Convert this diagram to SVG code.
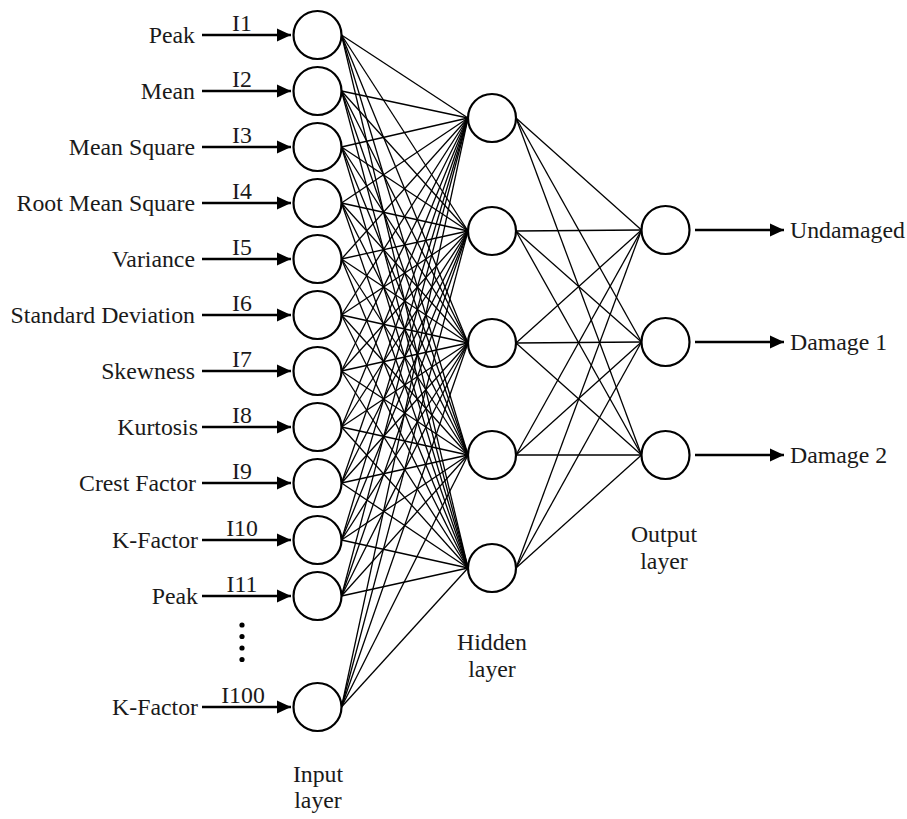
<svg xmlns="http://www.w3.org/2000/svg" width="907" height="819" viewBox="0 0 907 819">
<defs>
<marker id="ah" markerUnits="userSpaceOnUse" markerWidth="15" markerHeight="14" refX="14" refY="7" orient="auto"><path d="M0,0.5 L14,7 L0,13.5 z" fill="#000"/></marker>
</defs>
<style>
text{font-family:"Liberation Serif","Times New Roman",serif;font-size:23.8px;fill:#1a1a1a}
.lbl{text-anchor:end}
.mid{text-anchor:middle}
.node{fill:#fff;stroke:#000;stroke-width:2.2}
.arr{stroke:#000;stroke-width:2.6;fill:none;marker-end:url(#ah)}
.w{stroke:#000;stroke-width:1.3}
</style>
<rect width="907" height="819" fill="#fff"/>
<g id="connectors">
<g id="input-hidden">
<line class="w" x1="341.5" y1="35" x2="468" y2="118"/><line class="w" x1="341.5" y1="35" x2="468" y2="231"/><line class="w" x1="341.5" y1="35" x2="468" y2="343"/><line class="w" x1="341.5" y1="35" x2="468" y2="455"/><line class="w" x1="341.5" y1="35" x2="468" y2="568"/>
<line class="w" x1="341.5" y1="91" x2="468" y2="118"/><line class="w" x1="341.5" y1="91" x2="468" y2="231"/><line class="w" x1="341.5" y1="91" x2="468" y2="343"/><line class="w" x1="341.5" y1="91" x2="468" y2="455"/><line class="w" x1="341.5" y1="91" x2="468" y2="568"/>
<line class="w" x1="341.5" y1="147" x2="468" y2="118"/><line class="w" x1="341.5" y1="147" x2="468" y2="231"/><line class="w" x1="341.5" y1="147" x2="468" y2="343"/><line class="w" x1="341.5" y1="147" x2="468" y2="455"/><line class="w" x1="341.5" y1="147" x2="468" y2="568"/>
<line class="w" x1="341.5" y1="203" x2="468" y2="118"/><line class="w" x1="341.5" y1="203" x2="468" y2="231"/><line class="w" x1="341.5" y1="203" x2="468" y2="343"/><line class="w" x1="341.5" y1="203" x2="468" y2="455"/><line class="w" x1="341.5" y1="203" x2="468" y2="568"/>
<line class="w" x1="341.5" y1="259" x2="468" y2="118"/><line class="w" x1="341.5" y1="259" x2="468" y2="231"/><line class="w" x1="341.5" y1="259" x2="468" y2="343"/><line class="w" x1="341.5" y1="259" x2="468" y2="455"/><line class="w" x1="341.5" y1="259" x2="468" y2="568"/>
<line class="w" x1="341.5" y1="315" x2="468" y2="118"/><line class="w" x1="341.5" y1="315" x2="468" y2="231"/><line class="w" x1="341.5" y1="315" x2="468" y2="343"/><line class="w" x1="341.5" y1="315" x2="468" y2="455"/><line class="w" x1="341.5" y1="315" x2="468" y2="568"/>
<line class="w" x1="341.5" y1="371" x2="468" y2="118"/><line class="w" x1="341.5" y1="371" x2="468" y2="231"/><line class="w" x1="341.5" y1="371" x2="468" y2="343"/><line class="w" x1="341.5" y1="371" x2="468" y2="455"/><line class="w" x1="341.5" y1="371" x2="468" y2="568"/>
<line class="w" x1="341.5" y1="427" x2="468" y2="118"/><line class="w" x1="341.5" y1="427" x2="468" y2="231"/><line class="w" x1="341.5" y1="427" x2="468" y2="343"/><line class="w" x1="341.5" y1="427" x2="468" y2="455"/><line class="w" x1="341.5" y1="427" x2="468" y2="568"/>
<line class="w" x1="341.5" y1="483" x2="468" y2="118"/><line class="w" x1="341.5" y1="483" x2="468" y2="231"/><line class="w" x1="341.5" y1="483" x2="468" y2="343"/><line class="w" x1="341.5" y1="483" x2="468" y2="455"/><line class="w" x1="341.5" y1="483" x2="468" y2="568"/>
<line class="w" x1="341.5" y1="540" x2="468" y2="118"/><line class="w" x1="341.5" y1="540" x2="468" y2="231"/><line class="w" x1="341.5" y1="540" x2="468" y2="343"/><line class="w" x1="341.5" y1="540" x2="468" y2="455"/><line class="w" x1="341.5" y1="540" x2="468" y2="568"/>
<line class="w" x1="341.5" y1="596" x2="468" y2="118"/><line class="w" x1="341.5" y1="596" x2="468" y2="231"/><line class="w" x1="341.5" y1="596" x2="468" y2="343"/><line class="w" x1="341.5" y1="596" x2="468" y2="455"/><line class="w" x1="341.5" y1="596" x2="468" y2="568"/>
<line class="w" x1="341.5" y1="707" x2="468" y2="118"/><line class="w" x1="341.5" y1="707" x2="468" y2="231"/><line class="w" x1="341.5" y1="707" x2="468" y2="343"/><line class="w" x1="341.5" y1="707" x2="468" y2="455"/><line class="w" x1="341.5" y1="707" x2="468" y2="568"/>
</g>
<g id="hidden-output">
<line class="w" x1="516" y1="118" x2="641.5" y2="230"/><line class="w" x1="516" y1="118" x2="641.5" y2="342"/><line class="w" x1="516" y1="118" x2="641.5" y2="455"/>
<line class="w" x1="516" y1="231" x2="641.5" y2="230"/><line class="w" x1="516" y1="231" x2="641.5" y2="342"/><line class="w" x1="516" y1="231" x2="641.5" y2="455"/>
<line class="w" x1="516" y1="343" x2="641.5" y2="230"/><line class="w" x1="516" y1="343" x2="641.5" y2="342"/><line class="w" x1="516" y1="343" x2="641.5" y2="455"/>
<line class="w" x1="516" y1="455" x2="641.5" y2="230"/><line class="w" x1="516" y1="455" x2="641.5" y2="342"/><line class="w" x1="516" y1="455" x2="641.5" y2="455"/>
<line class="w" x1="516" y1="568" x2="641.5" y2="230"/><line class="w" x1="516" y1="568" x2="641.5" y2="342"/><line class="w" x1="516" y1="568" x2="641.5" y2="455"/>
</g>
<g id="input-arrows">
<line class="arr" x1="202" y1="35" x2="291" y2="35"/>
<line class="arr" x1="202" y1="91" x2="291" y2="91"/>
<line class="arr" x1="202" y1="147" x2="291" y2="147"/>
<line class="arr" x1="202" y1="203" x2="291" y2="203"/>
<line class="arr" x1="202" y1="259" x2="291" y2="259"/>
<line class="arr" x1="202" y1="315" x2="291" y2="315"/>
<line class="arr" x1="202" y1="371" x2="291" y2="371"/>
<line class="arr" x1="202" y1="427" x2="291" y2="427"/>
<line class="arr" x1="202" y1="483" x2="291" y2="483"/>
<line class="arr" x1="202" y1="540" x2="291" y2="540"/>
<line class="arr" x1="202" y1="596" x2="291" y2="596"/>
<line class="arr" x1="202" y1="707" x2="291" y2="707"/>
</g>
<g id="output-arrows">
<line class="arr" x1="695" y1="230" x2="784" y2="230"/>
<line class="arr" x1="695" y1="342" x2="784" y2="342"/>
<line class="arr" x1="695" y1="455" x2="784" y2="455"/>
</g>
</g>
<g id="input-nodes">
<g id="in1"><circle class="node" cx="317.5" cy="35" r="24"/><text class="lbl" x="195" y="43">Peak</text><text class="mid" x="242" y="31">I1</text></g>
<g id="in2"><circle class="node" cx="317.5" cy="91" r="24"/><text class="lbl" x="195" y="99">Mean</text><text class="mid" x="242" y="87">I2</text></g>
<g id="in3"><circle class="node" cx="317.5" cy="147" r="24"/><text class="lbl" x="195" y="155">Mean Square</text><text class="mid" x="242" y="143">I3</text></g>
<g id="in4"><circle class="node" cx="317.5" cy="203" r="24"/><text class="lbl" x="195" y="211">Root Mean Square</text><text class="mid" x="242" y="199">I4</text></g>
<g id="in5"><circle class="node" cx="317.5" cy="259" r="24"/><text class="lbl" x="195" y="267">Variance</text><text class="mid" x="242" y="255">I5</text></g>
<g id="in6"><circle class="node" cx="317.5" cy="315" r="24"/><text class="lbl" x="195" y="323">Standard Deviation</text><text class="mid" x="242" y="311">I6</text></g>
<g id="in7"><circle class="node" cx="317.5" cy="371" r="24"/><text class="lbl" x="195" y="379">Skewness</text><text class="mid" x="242" y="367">I7</text></g>
<g id="in8"><circle class="node" cx="317.5" cy="427" r="24"/><text class="lbl" x="198" y="435">Kurtosis</text><text class="mid" x="242" y="423">I8</text></g>
<g id="in9"><circle class="node" cx="317.5" cy="483" r="24"/><text class="lbl" x="196" y="491">Crest Factor</text><text class="mid" x="242" y="479">I9</text></g>
<g id="in10"><circle class="node" cx="317.5" cy="540" r="24"/><text class="lbl" x="198" y="548">K-Factor</text><text class="mid" x="242" y="536">I10</text></g>
<g id="in11"><circle class="node" cx="317.5" cy="596" r="24"/><text class="lbl" x="198" y="604">Peak</text><text class="mid" x="242" y="592">I11</text></g>
<g id="ellipsis"><circle cx="242" cy="625" r="2.6" fill="#000"/><circle cx="242" cy="636.5" r="2.6" fill="#000"/><circle cx="242" cy="648" r="2.6" fill="#000"/><circle cx="242" cy="659.5" r="2.6" fill="#000"/></g>
<g id="in100"><circle class="node" cx="317.5" cy="707" r="24"/><text class="lbl" x="198" y="715">K-Factor</text><text class="mid" x="243" y="703">I100</text></g>
<g id="input-label"><text class="mid" x="318" y="782">Input</text><text class="mid" x="318" y="808">layer</text></g>
</g>
<g id="hidden-nodes">
<g id="h1"><circle class="node" cx="492" cy="118" r="24"/></g>
<g id="h2"><circle class="node" cx="492" cy="231" r="24"/></g>
<g id="h3"><circle class="node" cx="492" cy="343" r="24"/></g>
<g id="h4"><circle class="node" cx="492" cy="455" r="24"/></g>
<g id="h5"><circle class="node" cx="492" cy="568" r="24"/></g>
<g id="hidden-label"><text class="mid" x="492" y="650">Hidden</text><text class="mid" x="492" y="677">layer</text></g>
</g>
<g id="output-nodes">
<g id="o1"><circle class="node" cx="665.5" cy="230" r="24"/><text x="790" y="238">Undamaged</text></g>
<g id="o2"><circle class="node" cx="665.5" cy="342" r="24"/><text x="790" y="350">Damage 1</text></g>
<g id="o3"><circle class="node" cx="665.5" cy="455" r="24"/><text x="790" y="463">Damage 2</text></g>
<g id="output-label"><text class="mid" x="664" y="542">Output</text><text class="mid" x="664" y="569">layer</text></g>
</g>
</svg>
